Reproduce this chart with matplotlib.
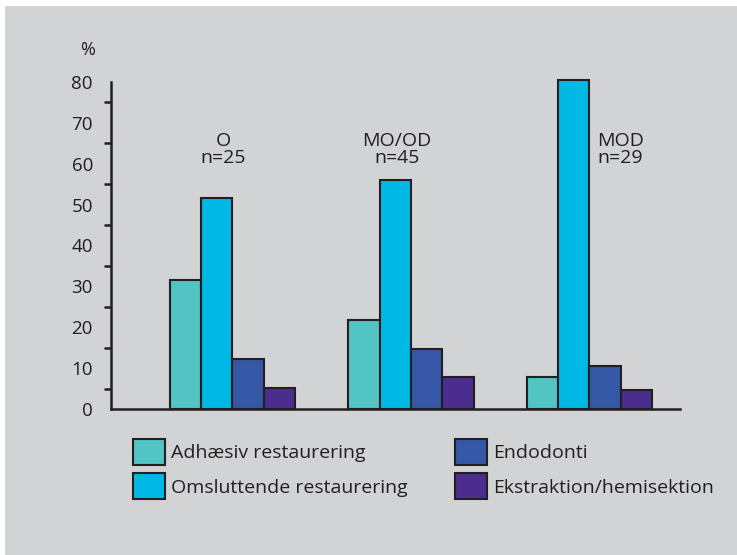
import numpy as np
import matplotlib
matplotlib.use("Agg")
from matplotlib import pyplot as plt
from matplotlib.patches import Rectangle
from matplotlib.ticker import MultipleLocator, FixedLocator

plt.rcParams['font.family'] = ['Open Sans', 'DejaVu Sans']

groups = ['O', 'MO/OD', 'MOD']
group_n = ['n=25', 'n=45', 'n=29']
series = ['Adhæsiv restaurering', 'Omsluttende restaurering', 'Endodonti', 'Ekstraktion/hemisektion']
adhaesiv = [31.5, 21.7, 7.8]
omsluttende = [51.5, 56.0, 80.5]
endodonti = [12.2, 14.6, 10.5]
ekstraktion = [5.1, 7.8, 4.6]
colors = ['#52c4c4', '#00b8e4', '#3657a6', '#4a2d8f']
ink = '#231f20'
bg = '#d1d3d4'

fig = plt.figure(figsize=(7.37, 5.55), dpi=100)
fig.patch.set_facecolor('white')
# grey panel with thin white margin top/left
fig.patches.append(Rectangle((5 / 737, 0), 1, 1 - 6 / 555, transform=fig.transFigure,
                             facecolor=bg, edgecolor='none', zorder=-10))

ax = fig.add_axes([111 / 737, 1 - 409 / 555, (680 - 111) / 737, (409 - 82) / 555])
ax.set_facecolor('none')

x = np.arange(len(groups))
w = 0.176
vals = [adhaesiv, omsluttende, endodonti, ekstraktion]
bars = []
for i, v in enumerate(vals):
    b = ax.bar(x + (i - 1.5) * w, v, w, color=colors[i], edgecolor=ink, linewidth=1.5,
               label=series[i], zorder=3, clip_on=False)
    bars.append(b)

ax.set_xlim(-0.68, 2.507)
ax.set_ylim(0, 80)
for s in ['top', 'right']:
    ax.spines[s].set_visible(False)
for s in ['left', 'bottom']:
    ax.spines[s].set_linewidth(1.8)
    ax.spines[s].set_color(ink)
ax.set_xticks([])
ax.yaxis.set_major_locator(MultipleLocator(10))
ax.yaxis.set_minor_locator(FixedLocator([5, 15, 25, 35, 45, 55, 65, 75]))
ax.tick_params(axis='y', which='major', length=0, pad=13, labelsize=13.5, labelcolor=ink)
ax.tick_params(axis='y', which='minor', length=5, width=1.8, color=ink)

fig.text(88 / 737, 1 - 50 / 555, '%', fontsize=13, color=ink, ha='center', va='center')

# group labels
ax.text(x[0] - 0.05, 63.5, groups[0] + '\n' + group_n[0], ha='center', va='center',
        fontsize=14, color=ink, linespacing=0.95)
ax.text(x[1] - 0.08, 63.5, groups[1] + '\n' + group_n[1], ha='center', va='center',
        fontsize=14, color=ink, linespacing=0.95)
ax.text(x[2] + 0.045, 63.5, groups[2] + '\n' + group_n[2], ha='left', va='center',
        fontsize=14, color=ink, linespacing=0.95)

fig.legend(handles=bars, labels=series, ncol=2, loc='upper left',
           bbox_to_anchor=(133 / 737, 1 - 439 / 555), frameon=False,
           fontsize=14, handlelength=1.65, handleheight=1.65, handletextpad=0.3,
           labelspacing=0.45, columnspacing=2.45, borderpad=0, borderaxespad=0,
           labelcolor=ink)

fig.savefig('out.png', dpi=100, facecolor=fig.get_facecolor())
